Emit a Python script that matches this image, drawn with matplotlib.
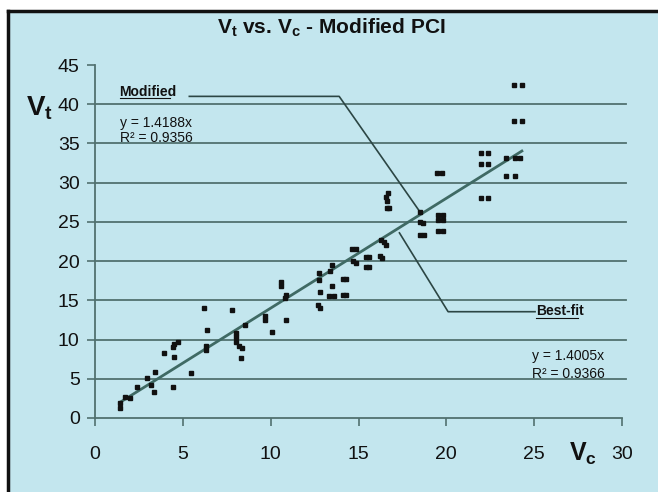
import matplotlib
matplotlib.use("Agg")
import matplotlib.pyplot as plt
import numpy as np
from matplotlib import font_manager

names = {f.name for f in font_manager.fontManager.ttflist}
narrow = 'Liberation Sans Narrow' if 'Liberation Sans Narrow' in names else 'Liberation Sans'
plt.rcParams['font.family'] = [narrow, 'DejaVu Sans']
plt.rcParams['mathtext.fontset'] = 'custom'
plt.rcParams['mathtext.rm'] = narrow + ':bold'
plt.rcParams['mathtext.it'] = narrow + ':bold'
plt.rcParams['mathtext.bf'] = narrow + ':bold'
plt.rcParams['mathtext.default'] = 'rm'

# ---- data ----
vc = [1.45, 1.45, 1.7, 2.0, 2.4, 2.95, 3.2, 3.35, 3.4, 3.9, 4.45, 4.5, 4.5, 4.45, 4.75,
      5.45, 6.2, 6.3, 6.3, 6.4, 7.8, 8.0, 8.0, 8.05, 8.2, 8.35, 8.3, 8.55, 9.7, 9.7,
      10.1, 10.6, 10.6, 10.8, 10.9, 10.9, 12.75, 12.75, 12.8, 12.7, 12.8, 13.5, 13.4,
      13.5, 13.3, 13.6, 14.1, 14.3, 14.1, 14.3, 14.65, 14.85, 14.7, 14.85, 15.4, 15.6,
      15.45, 15.6, 16.2, 16.35, 16.3, 16.45, 16.55, 16.55, 16.7, 16.6, 16.6, 16.75,
      18.5, 18.5, 18.65, 18.5, 18.75, 19.45, 19.75, 19.55, 19.8, 19.55, 19.8, 19.55,
      19.8, 22.0, 22.4, 22.0, 22.4, 22.0, 22.4, 23.4, 23.9, 24.2, 23.4, 23.9, 23.85,
      24.3, 23.85, 24.3]
vt = [1.3, 1.9, 2.7, 2.5, 4.0, 5.05, 4.2, 3.35, 5.9, 8.25, 9.0, 9.4, 7.8, 4.0, 9.7,
      5.7, 14.0, 8.7, 9.2, 11.2, 13.8, 10.8, 10.3, 9.7, 9.2, 8.9, 7.6, 11.8, 13.0, 12.5,
      11.0, 17.3, 16.8, 15.3, 15.7, 12.5, 18.5, 17.6, 16.0, 14.4, 14.0, 19.5, 18.8,
      16.8, 15.6, 15.6, 17.7, 17.7, 15.7, 15.7, 21.5, 21.5, 20.0, 19.7, 20.5, 20.5,
      19.2, 19.2, 20.6, 20.4, 22.7, 22.4, 22.0, 28.2, 28.7, 27.6, 26.8, 26.8,
      26.3, 25.0, 24.9, 23.3, 23.3, 31.2, 31.2, 25.9, 25.9, 25.2, 25.2, 23.8,
      23.8, 33.8, 33.8, 32.4, 32.4, 28.1, 28.1, 33.2, 33.2, 33.2, 30.9, 30.8, 37.9,
      37.9, 42.4, 42.4]

slope_best = 1.4005
r2_best = 0.9366
slope_mod = 1.4188
r2_mod = 0.9356

x_ticks = [0, 5, 10, 15, 20, 25, 30]
y_ticks = [0, 5, 10, 15, 20, 25, 30, 35, 40, 45]

# leader lines (data coordinates of the callouts)
mod_leader_x = [5.37, 13.9, 18.46]
mod_leader_y = [41.0, 41.0, 26.4]
best_leader_x = [17.33, 20.1, 25.05]
best_leader_y = [23.6, 13.55, 13.55]

# ---- figure ----
W, H = 658, 492
bg = '#c3e6ee'
fig = plt.figure(figsize=(W / 100, H / 100), dpi=100, facecolor='white')

# chart frame (scanned page look)
frame = fig.add_axes([8 / W, 0, 1 - 8 / W, 1 - 11 / H])
frame.set_facecolor(bg)
frame.set_xticks([]); frame.set_yticks([])
for s in ['right', 'bottom']:
    frame.spines[s].set_visible(False)
for s in ['left', 'top']:
    frame.spines[s].set_linewidth(2.5)
    frame.spines[s].set_color('#111111')

left, right, top, bottom = 95, 622, 65, 418
ax = fig.add_axes([left / W, 1 - bottom / H, (right - left) / W, (bottom - top) / H])
ax.set_facecolor('none')
ax.set_xlim(0, 30)
ax.set_ylim(0, 45)

grid_c = '#51716f'
for yv in y_ticks[1:-1]:
    ax.plot([0, 30.2], [yv, yv], color=grid_c, lw=1.3, clip_on=False, zorder=1)

for s in ['top', 'right']:
    ax.spines[s].set_visible(False)
for s in ['left', 'bottom']:
    ax.spines[s].set_color(grid_c)
    ax.spines[s].set_linewidth(1.3)

ax.set_xticks(x_ticks)
ax.set_yticks(y_ticks)
ax.tick_params(axis='both', colors=grid_c, width=1.2, length=6, labelcolor='#111111',
               labelsize=14)
ax.tick_params(axis='x', pad=14)
ax.tick_params(axis='y', pad=5)

# trend line
xs = np.array([min(vc), max(vc)])
ax.plot(xs, slope_best * xs, color='#3f6a64', lw=2.0, zorder=2)

# data
ax.plot(vc, vt, linestyle='none', marker='s', markersize=2.3, color='#111111', zorder=3)

# leader lines
ax.plot(mod_leader_x, mod_leader_y, color='#2c4644', lw=1.2, zorder=2)
ax.plot(best_leader_x, best_leader_y, color='#2c4644', lw=1.2, zorder=2)

# callout texts
ax.text(1.4, 41.6, 'Modified', fontsize=10, fontweight='bold', ha='left', va='center',
        color='#111111')
ax.plot([1.4, 4.25], [40.8, 40.8], color='#111111', lw=0.8)
ax.text(1.4, 37.6, f'y = {slope_mod}x', fontsize=10, ha='left', va='center', color='#111111')
ax.text(1.4, 35.7, f'R² = {r2_mod}', fontsize=10, ha='left', va='center', color='#111111')

ax.text(25.1, 13.6, 'Best-fit', fontsize=10, fontweight='bold', ha='left', va='center',
        color='#111111')
ax.plot([25.1, 27.5], [12.7, 12.7], color='#111111', lw=0.8)
ax.text(24.9, 7.9, f'y = {slope_best}x', fontsize=10, ha='left', va='center', color='#111111')
ax.text(24.9, 5.6, f'R² = {r2_best}', fontsize=10, ha='left', va='center', color='#111111')

# title and axis labels
fig.text(331 / W, 1 - 28 / H, r'V$_t$ vs. V$_c$ - Modified PCI', ha='center', va='center',
         fontsize=15, fontweight='bold', color='#111111')
fig.text(40 / W, 1 - 108 / H, r'V$_t$', ha='center', va='center', fontsize=20,
         fontweight='bold', color='#111111')
fig.text(583 / W, 1 - 454 / H, r'V$_c$', ha='center', va='center', fontsize=18,
         fontweight='bold', color='#111111')

fig.savefig('out.png', dpi=100, facecolor='white')
